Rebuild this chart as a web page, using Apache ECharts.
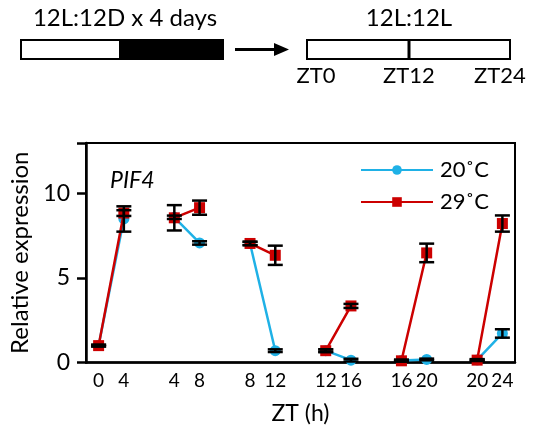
<!DOCTYPE html>
<html><head><meta charset="utf-8">
<script src="https://cdn.jsdelivr.net/npm/echarts@6/dist/echarts.min.js"></script>
<style>html,body{margin:0;padding:0;background:#fff}#c{width:537px;height:442px}</style>
</head><body><div id="c"></div>
<script>
// x categories (ZT labels of each sampling pair; blanks separate the pairs)
const categories = ['0','4','','4','8','','8','12','','12','16','','16','20','','20','24'];
const yTickValues = [0, 5, 10];
const seriesNames = ['20˚C', '29˚C'];
const blue20    = [1.0, 8.5, '-', 8.6, 7.08, '-', 7.05, 0.7, '-', 0.7, 0.14, '-', 0.12, 0.18, '-', 0.15, 1.72];
const blue20Err = [0.05, 0.75, 0, 0.1, 0.1, 0, 0.1, 0.08, 0, 0.08, 0.08, 0, 0.05, 0.05, 0, 0.05, 0.25];
const red29     = [1.0, 8.85, '-', 8.57, 9.17, '-', 7.05, 6.35, '-', 0.7, 3.35, '-', 0.1, 6.49, '-', 0.14, 8.23];
const red29Err  = [0.05, 0.17, 0, 0.75, 0.42, 0, 0.1, 0.57, 0, 0.08, 0.12, 0, 0.05, 0.55, 0, 0.05, 0.48];

const BLUE = '#1FB1E6', RED = '#CC0000';
const FONT = 'Lato';

function errSeries(vals, errs, z) {
  const data = [];
  vals.forEach((v, i) => { if (v !== '-') data.push([i, v - errs[i], v + errs[i]]); });
  return {
    type: 'custom', z: z, silent: true,
    renderItem(params, api) {
      const x = api.value(0);
      const lo = api.coord([x, api.value(1)]);
      const hi = api.coord([x, api.value(2)]);
      const w = 7.5, st = { stroke: '#000', lineWidth: 2.5 };
      return { type: 'group', children: [
        { type: 'line', shape: { x1: lo[0], y1: lo[1], x2: hi[0], y2: hi[1] }, style: st },
        { type: 'line', shape: { x1: lo[0] - w, y1: lo[1], x2: lo[0] + w, y2: lo[1] }, style: st },
        { type: 'line', shape: { x1: hi[0] - w, y1: hi[1], x2: hi[0] + w, y2: hi[1] }, style: st }
      ]};
    },
    encode: { x: 0, y: [1, 2] },
    data: data
  };
}

const chart = echarts.init(document.getElementById('c'));
chart.setOption({
  animation: false,
  backgroundColor: '#fff',
  textStyle: { fontFamily: FONT },
  grid: { left: 77, right: 22, top: 143, bottom: 79.5, show: true, borderColor: '#000', borderWidth: 2, containLabel: false },
  xAxis: {
    type: 'category', data: categories, boundaryGap: true,
    name: 'ZT (h)', nameLocation: 'middle', nameGap: 40,
    nameTextStyle: { fontSize: 23, color: '#000', fontFamily: FONT },
    axisLine: { lineStyle: { color: '#000', width: 2.5 } },
    axisTick: { alignWithLabel: true, length: 5, lineStyle: { color: '#000', width: 2.5 },
      interval: (i) => i % 3 === 2 },
    axisLabel: { interval: 0, fontSize: 19, color: '#000', margin: 9, fontFamily: FONT },
    splitLine: { show: false }
  },
  yAxis: {
    type: 'value', min: 0, max: 13, interval: 5,
    name: 'Relative expression', nameLocation: 'middle', nameGap: 54,
    nameTextStyle: { fontSize: 24, color: '#000', fontFamily: FONT },
    axisLine: { show: true, lineStyle: { color: '#000', width: 2.5 } },
    axisTick: { show: true, length: 9, lineStyle: { color: '#000', width: 2.5 } },
    axisLabel: { fontSize: 23, color: '#000', margin: 16, fontFamily: FONT,
      formatter: (v) => yTickValues.includes(v) ? String(v) : '' },
    splitLine: { show: false }
  },
  legend: {
    orient: 'vertical', left: 355, top: 154, itemWidth: 72, itemHeight: 12, itemGap: 10,
    textStyle: { fontSize: 22, color: '#000', fontFamily: FONT, padding: [0, 0, 0, 2] },
    data: seriesNames
  },
  graphic: [
    { type: 'text', z: 10, style: { text: 'PIF4', x: 110, y: 181, font: 'italic 23px Lato', fill: '#000', textVerticalAlign: 'middle' } },
    // top schematic
    { type: 'text', style: { text: '12L:12D x 4 days', x: 125, y: 18, font: '24px Lato', fill: '#000', textAlign: 'center', textVerticalAlign: 'middle' } },
    { type: 'rect', shape: { x: 21, y: 40, width: 100, height: 19 }, style: { fill: '#fff', stroke: '#000', lineWidth: 2 } },
    { type: 'rect', shape: { x: 120, y: 40, width: 103, height: 19 }, style: { fill: '#000', stroke: '#000', lineWidth: 2 } },
    { type: 'line', shape: { x1: 235, y1: 49.5, x2: 277, y2: 49.5 }, style: { stroke: '#000', lineWidth: 3 } },
    { type: 'polygon', shape: { points: [[274, 43], [289, 49.5], [274, 56]] }, style: { fill: '#000' } },
    { type: 'text', style: { text: '12L:12L', x: 409, y: 18, font: '24px Lato', fill: '#000', textAlign: 'center', textVerticalAlign: 'middle' } },
    { type: 'rect', shape: { x: 307, y: 40, width: 203, height: 19 }, style: { fill: '#fff', stroke: '#000', lineWidth: 2 } },
    { type: 'line', shape: { x1: 409, y1: 40, x2: 409, y2: 59 }, style: { stroke: '#000', lineWidth: 3 } },
    { type: 'text', style: { text: 'ZT0', x: 316, y: 76, font: '22px Lato', fill: '#000', textAlign: 'center', textVerticalAlign: 'middle' } },
    { type: 'text', style: { text: 'ZT12', x: 409, y: 76, font: '22px Lato', fill: '#000', textAlign: 'center', textVerticalAlign: 'middle' } },
    { type: 'text', style: { text: 'ZT24', x: 500, y: 76, font: '22px Lato', fill: '#000', textAlign: 'center', textVerticalAlign: 'middle' } }
  ],
  series: [
    { name: seriesNames[0], type: 'line', data: blue20, z: 3, connectNulls: false,
      symbol: 'circle', symbolSize: 11, showAllSymbol: true,
      lineStyle: { color: BLUE, width: 2.5 }, itemStyle: { color: BLUE } },
    { name: seriesNames[1], type: 'line', data: red29, z: 4, connectNulls: false,
      symbol: 'rect', symbolSize: 11, showAllSymbol: true,
      lineStyle: { color: RED, width: 2.5 }, itemStyle: { color: RED } },
    errSeries(blue20, blue20Err, 5),
    errSeries(red29, red29Err, 6)
  ]
});
</script></body></html>
